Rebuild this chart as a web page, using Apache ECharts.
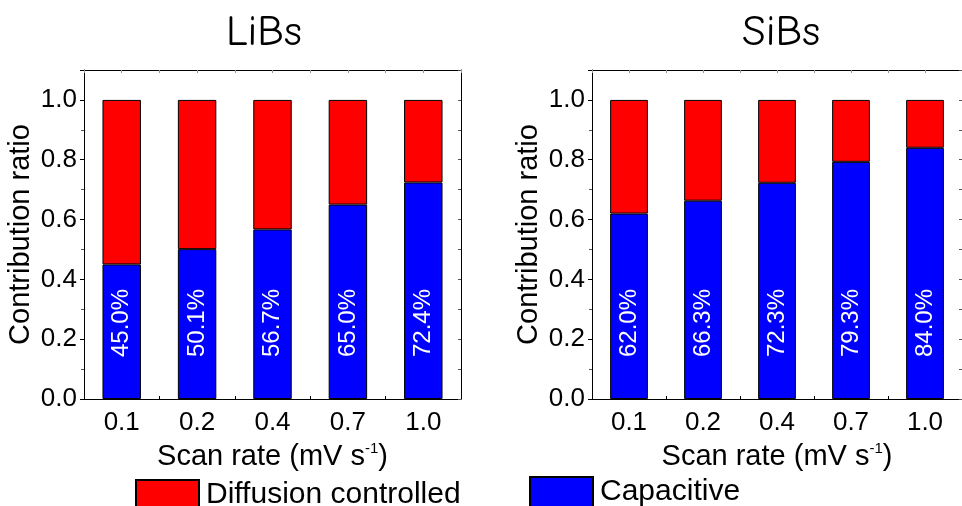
<!DOCTYPE html>
<html>
<head>
<meta charset="utf-8">
<script src="https://cdn.jsdelivr.net/npm/echarts@6/dist/echarts.min.js"></script>
<style>
  html, body { margin: 0; padding: 0; background: #fff; }
  #chart { width: 962px; height: 506px; }
</style>
</head>
<body>
<div id="chart"></div>
<script>
// Scan rates (mV s^-1)
const scanRates = ['0.1', '0.2', '0.4', '0.7', '1.0'];

// Capacitive / diffusion-controlled contribution ratios
const liCapacitive = [0.450, 0.501, 0.567, 0.650, 0.724];
const liDiffusion  = [0.550, 0.499, 0.433, 0.350, 0.276];
const naCapacitive = [0.620, 0.663, 0.723, 0.793, 0.840];
const naDiffusion  = [0.380, 0.337, 0.277, 0.207, 0.160];

const yTicks = [0.0, 0.2, 0.4, 0.6, 0.8, 1.0];
const panelTitles = ['LiBs', 'SiBs'];
const seriesNames = ['Diffusion controlled', 'Capacitive'];

const FONT = '"Liberation Sans", Arial, Helvetica, sans-serif';
const RED = '#ff0000';
const BLUE = '#0000ff';

const chart = echarts.init(document.getElementById('chart'), null, { renderer: 'canvas' });

const grids = [
  { left: 84, top: 70, width: 377, height: 329 },
  { left: 592, top: 70, width: 377, height: 329 }
];

function xAxesFor(gi) {
  const base = { type: 'category', gridIndex: gi, data: scanRates, boundaryGap: true };
  return [
    Object.assign({}, base, {
      position: 'bottom',
      name: 'Scan rate (mV s{sup|-1})',
      nameLocation: 'middle',
      nameGap: 42,
      nameTextStyle: {
        fontFamily: FONT, fontSize: 29, color: '#000',
        rich: { sup: { fontFamily: FONT, fontSize: 15, color: '#000', padding: [0, 0, 16, 0] } }
      },
      axisLine: { show: true, lineStyle: { color: '#000', width: 1 } },
      axisTick: { show: true, inside: true, length: 3, lineStyle: { color: '#000' } },
      axisLabel: { fontFamily: FONT, fontSize: 26, color: '#000', margin: 11 },
      splitLine: { show: false }
    }),
    Object.assign({}, base, {
      position: 'bottom',
      axisLine: { show: false },
      axisTick: { show: true, inside: true, length: 3, alignWithLabel: true, lineStyle: { color: '#000' } },
      axisLabel: { show: false },
      splitLine: { show: false }
    }),
    Object.assign({}, base, {
      position: 'top',
      axisLine: { show: true, lineStyle: { color: '#000', width: 1 } },
      axisTick: { show: true, inside: true, length: 3, lineStyle: { color: '#999' } },
      axisLabel: { show: false },
      splitLine: { show: false }
    }),
    Object.assign({}, base, {
      position: 'top',
      axisLine: { show: false },
      axisTick: { show: true, inside: true, length: 3, alignWithLabel: true, lineStyle: { color: '#999' } },
      axisLabel: { show: false },
      splitLine: { show: false }
    })
  ];
}

function yAxesFor(gi) {
  const base = {
    type: 'value', gridIndex: gi, min: 0, max: 1.1, interval: 0.2,
    splitLine: { show: false }
  };
  return [
    Object.assign({}, base, {
      position: 'left',
      name: 'Contribution ratio',
      nameLocation: 'middle',
      nameGap: 49,
      nameTextStyle: { fontFamily: FONT, fontSize: 29, color: '#000' },
      axisLine: { show: true, lineStyle: { color: '#000', width: 1 } },
      axisTick: { show: true, inside: false, length: 4, lineStyle: { color: '#000' } },
      minorTick: { show: true, splitNumber: 2, length: 3, lineStyle: { color: '#555' } },
      axisLabel: {
        fontFamily: FONT, fontSize: 26, color: '#000', margin: 7,
        showMaxLabel: false,
        formatter: v => (yTicks.some(t => Math.abs(t - v) < 1e-9) ? v.toFixed(1) : '')
      }
    }),
    Object.assign({}, base, {
      position: 'right',
      axisLine: { show: true, lineStyle: { color: '#000', width: 1 } },
      axisTick: { show: true, inside: true, length: 3, lineStyle: { color: '#555' } },
      minorTick: { show: true, splitNumber: 2, length: 3, lineStyle: { color: '#555' } },
      axisLabel: { show: false }
    })
  ];
}

const xAxis = [...xAxesFor(0), ...xAxesFor(1)];
const yAxis = [...yAxesFor(0), ...yAxesFor(1)];

function panelSeries(gi, cap, dif) {
  const common = {
    type: 'bar', stack: 'total' + gi, barWidth: '51%',
    xAxisIndex: gi * 4, yAxisIndex: gi * 2,
    emphasis: { disabled: true }
  };
  return [
    Object.assign({}, common, {
      name: seriesNames[1],
      data: cap,
      itemStyle: { color: BLUE, borderColor: '#000', borderWidth: 1 },
      label: {
        show: true,
        position: 'insideBottom',
        rotate: 90,
        align: 'left',
        verticalAlign: 'middle',
        distance: 42,
        fontFamily: FONT,
        fontSize: 24,
        color: '#fff',
        formatter: p => (p.value * 100).toFixed(1) + '%'
      }
    }),
    Object.assign({}, common, {
      name: seriesNames[0],
      data: dif,
      itemStyle: { color: RED, borderColor: '#000', borderWidth: 1 }
    })
  ];
}

const TITLE_FONT = '"Comic Sans MS", "Comic Neue", "DejaVu Sans", sans-serif';

const option = {
  animation: false,
  backgroundColor: '#fff',
  title: [
    { text: panelTitles[0], left: 259, top: 6, textAlign: 'center',
      textStyle: { fontFamily: TITLE_FONT, fontSize: 43, fontWeight: 'normal', color: '#000' } },
    { text: panelTitles[1], left: 776, top: 6, textAlign: 'center',
      textStyle: { fontFamily: TITLE_FONT, fontSize: 43, fontWeight: 'normal', color: '#000' } }
  ],
  grid: grids,
  xAxis: xAxis,
  yAxis: yAxis,
  legend: [
    { data: [seriesNames[0]], left: 130, top: 474, itemWidth: 63, itemHeight: 30, itemGap: 10,
      icon: 'rect', selectedMode: false,
      textStyle: { fontFamily: FONT, fontSize: 30, color: '#000', padding: [0, 0, 0, 2] } },
    { data: [seriesNames[1]], left: 524, top: 471, itemWidth: 63, itemHeight: 30, itemGap: 10,
      icon: 'rect', selectedMode: false,
      textStyle: { fontFamily: FONT, fontSize: 30, color: '#000', padding: [0, 0, 0, 2] } }
  ],
  series: [
    ...panelSeries(0, liCapacitive, liDiffusion),
    ...panelSeries(1, naCapacitive, naDiffusion)
  ]
};

chart.setOption(option);
</script>
</body>
</html>
